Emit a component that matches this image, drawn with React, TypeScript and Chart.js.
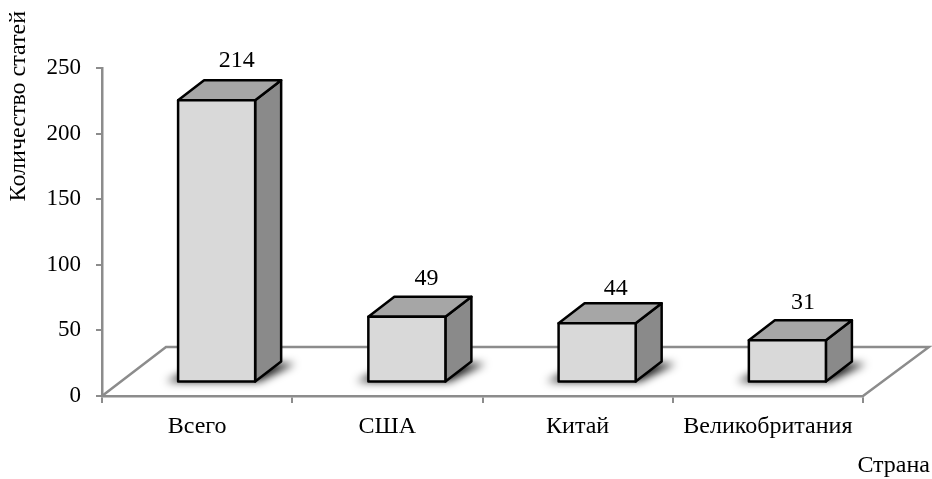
import React, { useEffect, useRef } from "react";
import { Chart, registerables } from "chart.js";

Chart.register(...registerables);

const categories = ["Всего", "США", "Китай", "Великобритания"];
const articleCounts = [214, 49, 44, 31];
const yTitle = "Количество статей";
const xTitle = "Страна";

const FONT = "'Liberation Serif', 'Times New Roman', serif";
const FONT_SIZE = 24;
const AXIS = "#8c8c8c";
const labelShiftX = [20, 19.5, 18.5, 15.5];
const labelShiftY = [-40, -38, -35, -38];

const plugin3d = {
  id: "plugin3d",
  beforeDatasetsDraw(chart: any) {
    const { ctx, chartArea: a } = chart;
    ctx.save();
    ctx.strokeStyle = AXIS;
    ctx.lineWidth = 2.5;
    ctx.beginPath();
    ctx.moveTo(a.left, a.bottom);
    ctx.lineTo(a.left + 64, a.bottom - 49);
    ctx.lineTo(a.right + 66, a.bottom - 49);
    ctx.lineTo(a.right, a.bottom);
    ctx.stroke();
    ctx.restore();
  },
  afterDatasetsDraw(chart: any) {
    const { ctx } = chart;
    const bars = chart.getDatasetMeta(0).data;
    const sx = 19.5, dx = 26, dy = -20;
    ctx.save();
    bars.forEach((b: any, i: number) => {
      const w = b.width;
      const l = b.x - w / 2 + sx;
      const r = l + w;
      const t = b.y - 15;
      const bt = b.base - 13.5;
      // soft shadow on the floor
      ctx.save();
      ctx.filter = "blur(4px)";
      ctx.fillStyle = "rgba(0,0,0,0.9)";
      ctx.beginPath();
      ctx.moveTo(l - 12, bt);
      ctx.lineTo(r + 4, bt);
      ctx.lineTo(r + dx + 14, bt + dy + 2);
      ctx.lineTo(l + dx, bt + dy + 2);
      ctx.closePath();
      ctx.fill();
      ctx.restore();

      ctx.lineWidth = 2.5;
      ctx.lineJoin = "round";
      ctx.strokeStyle = "#000";
      // side
      ctx.fillStyle = "#8a8a8a";
      ctx.beginPath();
      ctx.moveTo(r, t);
      ctx.lineTo(r + dx, t + dy);
      ctx.lineTo(r + dx, bt + dy);
      ctx.lineTo(r, bt);
      ctx.closePath();
      ctx.fill();
      ctx.stroke();
      // top
      ctx.fillStyle = "#a6a6a6";
      ctx.beginPath();
      ctx.moveTo(l, t);
      ctx.lineTo(l + dx, t + dy);
      ctx.lineTo(r + dx, t + dy);
      ctx.lineTo(r, t);
      ctx.closePath();
      ctx.fill();
      ctx.stroke();
      // front
      ctx.fillStyle = "#d9d9d9";
      ctx.beginPath();
      ctx.rect(l, t, w, bt - t);
      ctx.fill();
      ctx.stroke();
      // value label
      ctx.fillStyle = "#000";
      ctx.font = `${FONT_SIZE}px ${FONT}`;
      ctx.textAlign = "center";
      ctx.textBaseline = "middle";
      ctx.fillText(String(articleCounts[i]), b.x + sx + labelShiftX[i], t + labelShiftY[i]);
    });
    // axis titles
    ctx.fillStyle = "#000";
    ctx.font = `${FONT_SIZE}px ${FONT}`;
    ctx.textAlign = "right";
    ctx.textBaseline = "middle";
    ctx.fillText(xTitle, 930, 466);
    ctx.translate(19, 11);
    ctx.rotate(-Math.PI / 2);
    ctx.textAlign = "right";
    ctx.fillText(yTitle, 0, 0);
    ctx.restore();
  },
};

export default function App() {
  const ref = useRef<HTMLCanvasElement>(null);
  useEffect(() => {
    const chart = new Chart(ref.current!, {
      type: "bar",
      data: {
        labels: categories,
        datasets: [
          {
            data: articleCounts,
            backgroundColor: "rgba(0,0,0,0)",
            borderWidth: 0,
            barPercentage: 0.405,
            categoryPercentage: 1,
          },
        ],
      },
      options: {
        animation: false,
        responsive: false,
        layout: { padding: { top: 68, right: 69, left: 0, bottom: 0 } },
        plugins: { legend: { display: false }, tooltip: { enabled: false } },
        scales: {
          x: {
            border: { color: AXIS, width: 2.5 },
            grid: {
              drawOnChartArea: false,
              color: AXIS,
              lineWidth: 2,
              tickLength: 7,
              offset: true,
            },
            ticks: {
              color: "#000",
              font: { family: FONT, size: FONT_SIZE },
              padding: 9,
              maxRotation: 0,
              autoSkip: false,
            },
            afterFit: (s: any) => {
              s.height = 83;
            },
          },
          y: {
            min: 0,
            max: 250,
            border: { color: AXIS, width: 2.5 },
            grid: {
              drawOnChartArea: false,
              color: AXIS,
              lineWidth: 2,
              tickLength: 6,
            },
            ticks: {
              color: "#000",
              stepSize: 50,
              font: { family: FONT, size: 23 },
              padding: 15,
            },
            afterFit: (s: any) => {
              s.width = 102;
            },
          },
        },
      },
      plugins: [plugin3d],
    } as any);
    return () => chart.destroy();
  }, []);
  return (
    <canvas
      ref={ref}
      width={932}
      height={479}
      style={{ position: "fixed", left: 0, top: 0, width: 932, height: 479, background: "#fff" }}
    />
  );
}
